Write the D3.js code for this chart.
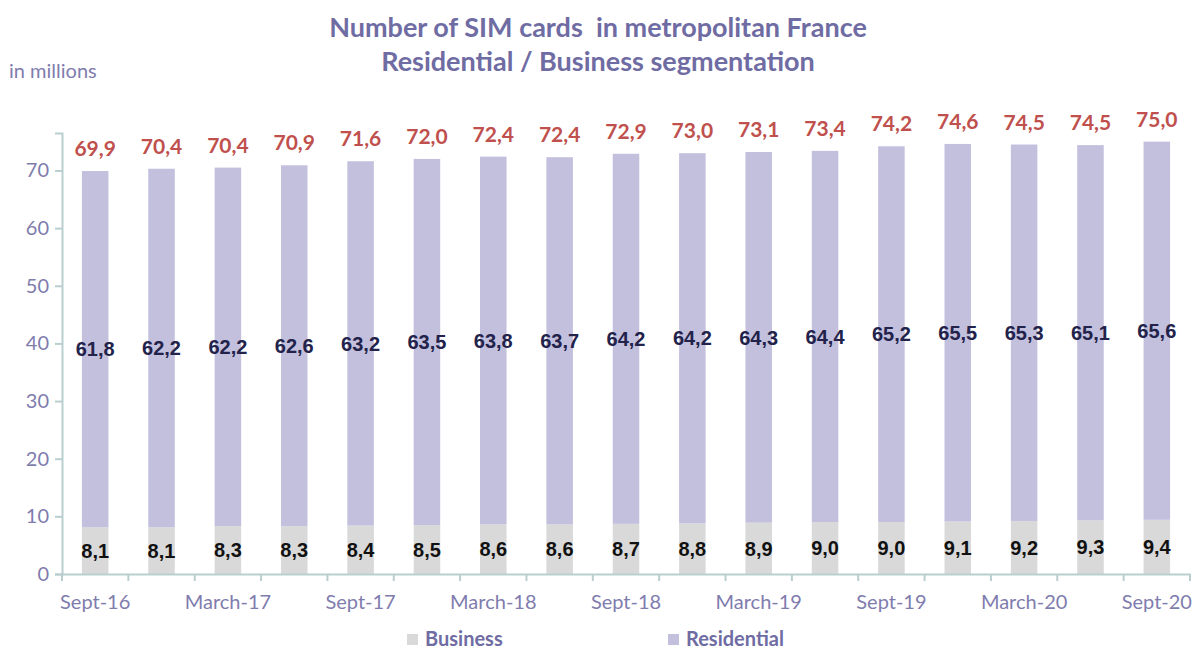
<!DOCTYPE html>
<html>
<head>
<meta charset="utf-8">
<script src="https://cdn.jsdelivr.net/npm/d3@7"></script>
<style>
  body { margin: 0; background: #fff; }
  svg text { font-family: Lato, "Open Sans", sans-serif; }
  .tick line { stroke: #b9cfcf; }
  .domain { stroke: #b9cfcf; stroke-width: 2px; }
</style>
</head>
<body>
<svg id="chart" width="1195" height="651"></svg>
<script>
// quarters
var categories = ["Sept-16","Dec-16","March-17","June-17","Sept-17","Dec-17","March-18","June-18",
  "Sept-18","Dec-18","March-19","June-19","Sept-19","Dec-19","March-20","June-20","Sept-20"];
var business = [8.1,8.1,8.3,8.3,8.4,8.5,8.6,8.6,8.7,8.8,8.9,9.0,9.0,9.1,9.2,9.3,9.4];
var residential = [61.8,62.2,62.2,62.6,63.2,63.5,63.8,63.7,64.2,64.2,64.3,64.4,65.2,65.5,65.3,65.1,65.6];
var totals = [69.9,70.4,70.4,70.9,71.6,72.0,72.4,72.4,72.9,73.0,73.1,73.4,74.2,74.6,74.5,74.5,75.0];
var yTicks = [0,10,20,30,40,50,60,70];

var svg = d3.select("#chart");
var mLeft = 62, mRight = 1190, mTop = 133, mBottom = 574;
var purple = "#6f6ca3";
var arial = "'Liberation Sans', Arial, sans-serif";

var fr = d3.formatLocale({decimal: ",", thousands: " ", grouping: [3], currency: ["", "€"]});
var fmt = fr.format(".1f");

var data = categories.map(function(c, i){
    return {cat: c, business: business[i], residential: residential[i], total: totals[i]};
});

var x = d3.scaleBand().domain(categories).range([mLeft, mRight]).paddingInner(0.6).paddingOuter(0.3);
var xAxisScale = d3.scaleBand().domain(categories).range([mLeft, mRight]);
var y = d3.scaleLinear().domain([0, 76.5]).range([mBottom, mTop]);

// title
svg.append("text").attr("x", 598).attr("y", 37).attr("text-anchor", "middle")
    .attr("font-size", "27px").attr("font-weight", "bold").attr("fill", purple)
    .style("white-space", "pre")
    .text("Number of SIM cards  in metropolitan France");
svg.append("text").attr("x", 598).attr("y", 71).attr("text-anchor", "middle")
    .attr("font-size", "27px").attr("font-weight", "bold").attr("fill", purple)
    .text("Residential / Business segmentation");
svg.append("text").attr("x", 9).attr("y", 78)
    .attr("font-size", "20px").attr("fill", "#7f7cae").text("in millions");

// stacked bars
var stack = d3.stack().keys(["business", "residential"]);
var series = stack(data);
var colors = {business: "#d9d9d9", residential: "#c3c0de"};

svg.selectAll(".layer").data(series).enter().append("g")
    .attr("fill", function(d){ return colors[d.key]; })
    .selectAll("rect").data(function(d){ return d; }).enter().append("rect")
    .attr("x", function(d){ return x(d.data.cat); })
    .attr("width", x.bandwidth())
    .attr("y", function(d){ return y(d[1]); })
    .attr("height", function(d){ return y(d[0]) - y(d[1]); });

// axes
svg.append("g").attr("transform", "translate(0," + mBottom + ")")
    .call(d3.axisBottom(xAxisScale).tickSize(0).tickFormat(function(d, i){ return i % 2 === 0 ? d : ""; }))
    .call(function(g){
        g.selectAll("text").attr("font-size", "20px").attr("fill", "#7f7cae").attr("dy", "1.6em");
    });
// tick marks at band boundaries
svg.append("g").selectAll("line").data(categories.concat(["end"])).enter().append("line")
    .attr("x1", function(d, i){ return mLeft + i * xAxisScale.step(); })
    .attr("x2", function(d, i){ return mLeft + i * xAxisScale.step(); })
    .attr("y1", mBottom).attr("y2", mBottom + 7)
    .attr("stroke", "#b9cfcf").attr("stroke-width", 2);

svg.append("g").attr("transform", "translate(" + mLeft + ",0)")
    .call(d3.axisLeft(y).tickValues(yTicks).tickSize(7).tickPadding(6))
    .call(function(g){
        g.selectAll("text").attr("font-size", "20px").attr("fill", "#7f7cae");
        g.selectAll(".tick line").attr("stroke-width", 2);
    });

// value labels
var cx = function(d){ return x(d.cat) + x.bandwidth() / 2; };
svg.append("g").selectAll("text").data(data).enter().append("text")
    .attr("x", cx).attr("y", function(d){ return y(d.business / 2); }).attr("dy", "0.36em")
    .attr("text-anchor", "middle").attr("font-size", "20px").attr("font-weight", "bold")
    .style("font-family", arial).attr("fill", "#111")
    .text(function(d){ return fmt(d.business); });
svg.append("g").selectAll("text").data(data).enter().append("text")
    .attr("x", cx).attr("y", function(d){ return y(d.business + d.residential / 2); }).attr("dy", "0.36em")
    .attr("text-anchor", "middle").attr("font-size", "20px").attr("font-weight", "bold")
    .style("font-family", arial).attr("fill", "#22224a")
    .text(function(d){ return fmt(d.residential); });
svg.append("g").selectAll("text").data(data).enter().append("text")
    .attr("x", cx).attr("y", function(d){ return y(d.business + d.residential) - 15; })
    .attr("text-anchor", "middle").attr("font-size", "21px").attr("font-weight", "bold")
    .attr("fill", "#c0504d")
    .text(function(d){ return fmt(d.total); });

// legend
var legend = [{key: "business", label: "Business", x: 407}, {key: "residential", label: "Residential", x: 668}];
var lg = svg.append("g").selectAll("g").data(legend).enter().append("g")
    .attr("transform", function(d){ return "translate(" + d.x + ",634)"; });
lg.append("rect").attr("width", 11).attr("height", 11).attr("fill", function(d){ return colors[d.key]; });
lg.append("text").attr("x", 18).attr("y", 12).attr("font-size", "20px").attr("font-weight", "bold")
    .attr("fill", purple).text(function(d){ return d.label; });
</script>
</body>
</html>
